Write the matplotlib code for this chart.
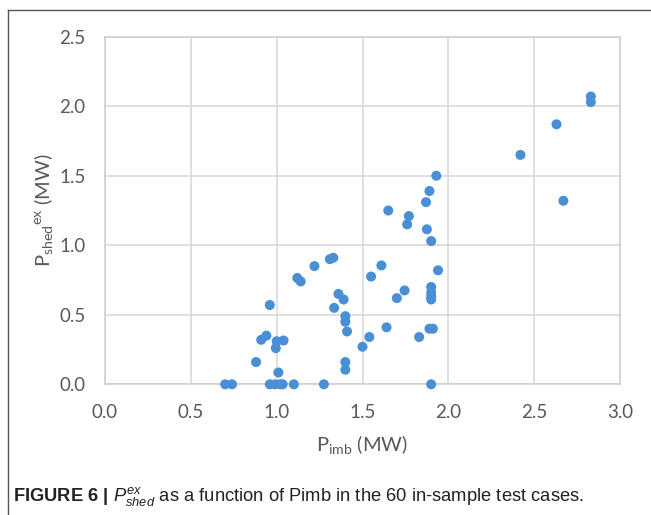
import matplotlib
matplotlib.use("Agg")
import matplotlib.pyplot as plt
from matplotlib.lines import Line2D

# P_imb (MW) and P_shed^ex (MW)
p_imb = [
    2.83, 2.83, 2.63, 2.42, 2.67, 1.93, 1.89, 1.87, 1.65, 1.77,
    1.76, 1.875, 1.90, 1.31, 1.33, 1.22, 1.61, 1.94, 1.55, 1.12,
    1.14, 1.745, 1.70, 1.90, 1.90, 1.90, 1.90, 1.36, 1.39, 1.335,
    0.96, 1.40, 1.40, 1.41, 1.64, 1.89, 1.91, 1.83, 1.54, 1.50,
    0.91, 0.94, 1.00, 1.04, 0.995, 0.88, 1.01, 1.40, 1.40, 0.70,
    0.74, 0.96, 0.99, 1.02, 1.035, 1.10, 1.275, 1.90,
]
p_shed = [
    2.07, 2.03, 1.87, 1.65, 1.32, 1.50, 1.39, 1.31, 1.25, 1.21,
    1.15, 1.115, 1.03, 0.90, 0.91, 0.85, 0.855, 0.82, 0.775, 0.765,
    0.74, 0.675, 0.62, 0.70, 0.66, 0.63, 0.61, 0.65, 0.61, 0.55,
    0.57, 0.49, 0.45, 0.38, 0.41, 0.40, 0.40, 0.34, 0.34, 0.27,
    0.32, 0.35, 0.31, 0.315, 0.26, 0.16, 0.085, 0.16, 0.105, 0.0,
    0.0, 0.0, 0.0, 0.0, 0.0, 0.0, 0.0, 0.0,
]
x_ticks = [0.0, 0.5, 1.0, 1.5, 2.0, 2.5, 3.0]
y_ticks = [0.0, 0.5, 1.0, 1.5, 2.0, 2.5]

plt.rcParams["mathtext.fontset"] = "custom"
plt.rcParams["mathtext.rm"] = "Lato"
plt.rcParams["mathtext.it"] = "Liberation Sans:italic"
plt.rcParams["mathtext.bf"] = "Liberation Sans:bold"

fig = plt.figure(figsize=(6.51, 5.15), dpi=100)
ax = fig.add_axes([0.1613, 0.2538, 0.7911, 0.6749])

ax.scatter(p_imb, p_shed, s=52, color="#4a8fd6", edgecolors="none", zorder=3, clip_on=False)

ax.set_xlim(0, 3.0)
ax.set_ylim(0, 2.5)
ax.set_xticks(x_ticks)
ax.set_yticks(y_ticks)
ax.set_xticklabels([f"{v:.1f}" for v in x_ticks])
ax.set_yticklabels([f"{v:.1f}" for v in y_ticks])
ax.tick_params(length=0, labelsize=13.5, labelcolor="#595959")
ax.tick_params(axis="x", pad=14)
ax.tick_params(axis="y", pad=14)
for lab in ax.get_xticklabels() + ax.get_yticklabels():
    lab.set_fontfamily("Lato")

ax.grid(True, color="#d9d9d9", linewidth=1.2)
ax.set_axisbelow(True)
for sp in ax.spines.values():
    sp.set_color("#cfcfcf")
    sp.set_linewidth(1.2)

ax.set_xlabel(r"P$_{\mathrm{imb}}$ (MW)", fontsize=14.5, color="#595959",
              family="Lato", labelpad=9)
ax.set_ylabel(r"P$_{\mathrm{shed}}$$^{\mathrm{ex}}$ (MW)", fontsize=14.5,
              color="#595959", family="Lato", labelpad=2)

# open frame round the figure
fig.add_artist(Line2D([0.0123, 0.0123], [0.0, 0.981], color="#555555", lw=1.0))
fig.add_artist(Line2D([0.0123, 1.0], [0.981, 0.981], color="#555555", lw=1.0))

caption = (r"$\mathbf{FIGURE\ 6\ |}$ $P^{ex}_{shed}$ as a function of Pimb "
           "in the 60 in-sample test cases.")
fig.text(0.02, 1 - 497 / 515, caption, fontsize=13.2, family="Liberation Sans",
         color="#222222", va="center", ha="left")

fig.savefig("out.png", dpi=100)
